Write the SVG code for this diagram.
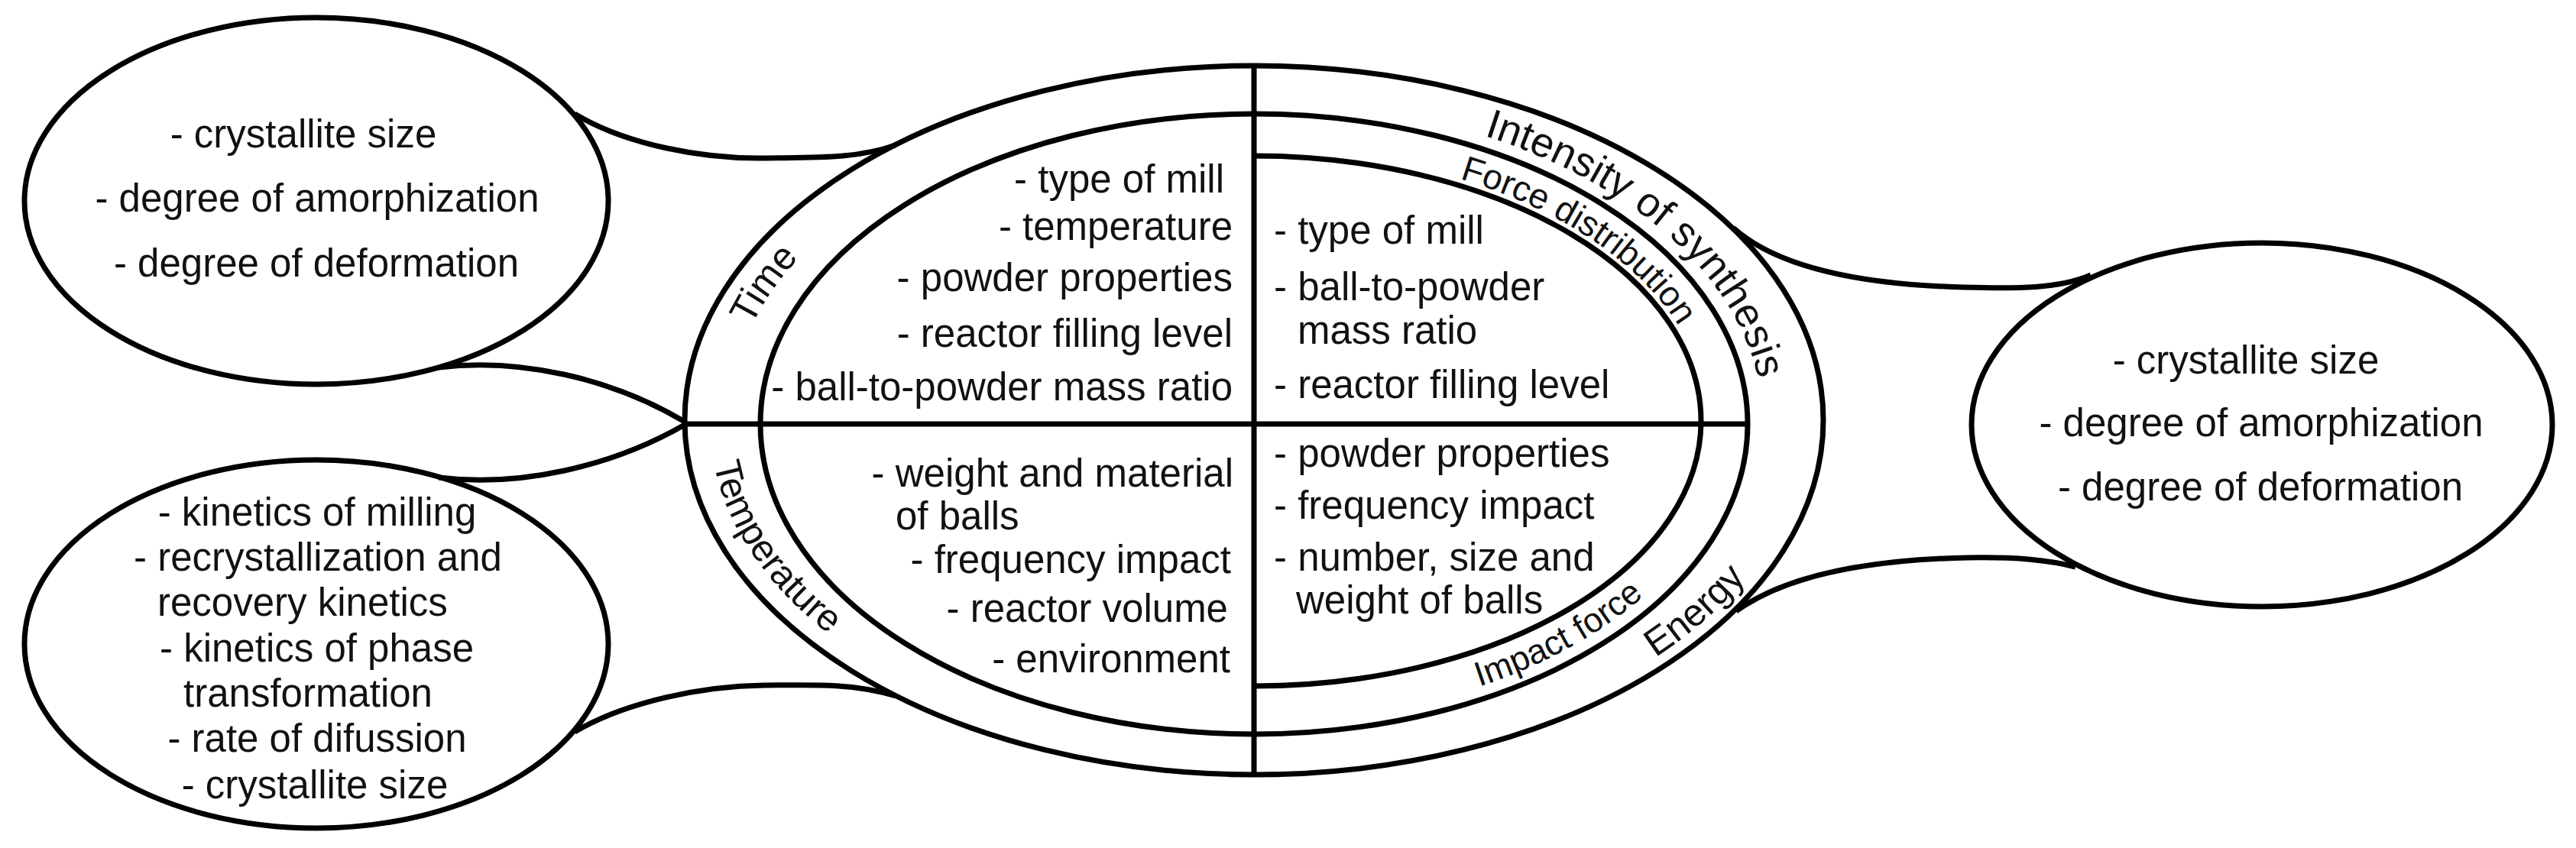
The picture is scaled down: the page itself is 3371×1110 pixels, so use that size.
<svg xmlns="http://www.w3.org/2000/svg" width="3371" height="1110" viewBox="0 0 3371 1110">
<style>
.ln{fill:none;stroke:#000;stroke-width:7}
.t{font-family:"Liberation Sans",Arial,Helvetica,sans-serif;font-size:51px;fill:#111}
.m{text-anchor:middle}
.e{text-anchor:end}
.r{font-family:"Liberation Sans",Arial,Helvetica,sans-serif;fill:#111;text-anchor:middle}
</style>
<defs>
<path id="p-time" d="M 953.6 535.7 A 688 430 0 0 1 1132.2 263.6"/>
<path id="p-temp" d="M 929.6 570.8 A 712 444 0 0 0 1114.4 851.8"/>
<path id="p-int" d="M 1879.7 160 A 666 421 0 0 1 2306.9 560.4"/>
<path id="p-force" d="M 1843.8 216.5 A 593 356 0 0 1 2225 489.2"/>
<path id="p-impact" d="M 1790.3 933.7 A 626 392 0 0 0 2242.1 662.4"/>
<path id="p-energy" d="M 2066.6 915 A 724 450 0 0 0 2343.5 659.9"/>
</defs>
<rect width="3371" height="1110" fill="#fff"/>
<g id="connectors">
<path class="ln" d="M 752 149 C 820 190 920 208 1000 207 C 1070 206 1120 208 1172 190"/>
<path class="ln" d="M 574 481 C 680 468 800 495 896 552"/>
<path class="ln" d="M 574 625 C 680 638 800 611 896 556"/>
<path class="ln" d="M 752 958 C 820 918 920 898 1000 897 C 1070 896 1120 895 1172 911"/>
<path class="ln" d="M 2268 298 C 2320 345 2420 372 2570 376 C 2640 378 2695 378 2736 360"/>
<path class="ln" d="M 2272 800 C 2330 758 2430 733 2575 730 C 2640 729 2680 733 2716 742"/>
</g>
<g id="node-top-left">
<ellipse class="ln" cx="414" cy="263" rx="382" ry="240"/>
<text class="t m" x="397" y="193">- crystallite size</text>
<text class="t m" x="415" y="277">- degree of amorphization</text>
<text class="t m" x="414" y="362">- degree of deformation</text>
</g>
<g id="node-bottom-left">
<ellipse class="ln" cx="414" cy="843" rx="382" ry="241"/>
<text class="t m" x="415" y="688">- kinetics of milling</text>
<text class="t" x="175" y="747">- recrystallization and</text>
<text class="t" x="206" y="806">recovery kinetics</text>
<text class="t" x="209" y="866">- kinetics of phase</text>
<text class="t" x="240" y="925">transformation</text>
<text class="t m" x="415" y="984">- rate of difussion</text>
<text class="t m" x="412" y="1045">- crystallite size</text>
</g>
<g id="node-right">
<ellipse class="ln" cx="2960" cy="556" rx="380" ry="238"/>
<text class="t m" x="2939" y="489">- crystallite size</text>
<text class="t m" x="2959" y="571">- degree of amorphization</text>
<text class="t m" x="2958" y="655">- degree of deformation</text>
</g>
<g id="node-main">
<ellipse class="ln" cx="1641" cy="550" rx="745" ry="464"/>
<ellipse class="ln" cx="1641" cy="555" rx="646" ry="406"/>
<path class="ln" d="M 1641 204 A 585 347 0 0 1 2226 551 A 585 347 0 0 1 1641 898"/>
<path class="ln" d="M 896 555 H 2287"/>
<path class="ln" d="M 1641 86 V 1014"/>
<text class="r" font-size="50"><textPath href="#p-time" startOffset="50%">Time</textPath></text>
<text class="r" font-size="49"><textPath href="#p-temp" startOffset="50%">Temperature</textPath></text>
<text class="r" font-size="54"><textPath href="#p-int" startOffset="50%">Intensity of synthesis</textPath></text>
<text class="r" font-size="46"><textPath href="#p-force" startOffset="50%">Force distribution</textPath></text>
<text class="r" font-size="45"><textPath href="#p-impact" startOffset="50%">Impact force</textPath></text>
<text class="r" font-size="50"><textPath href="#p-energy" startOffset="50%">Energy</textPath></text>
</g>
<g id="node-q-top-left">
<text class="t e" x="1602" y="252">- type of mill</text>
<text class="t e" x="1613" y="314">- temperature</text>
<text class="t e" x="1613" y="381">- powder properties</text>
<text class="t e" x="1613" y="454">- reactor filling level</text>
<text class="t e" x="1613" y="524">- ball-to-powder mass ratio</text>
</g>
<g id="node-q-bottom-left">
<text class="t e" x="1614" y="637">- weight and material</text>
<text class="t" x="1172" y="693">of balls</text>
<text class="t e" x="1611" y="750">- frequency impact</text>
<text class="t e" x="1607" y="814">- reactor volume</text>
<text class="t e" x="1610" y="880">- environment</text>
</g>
<g id="node-q-top-right">
<text class="t" x="1667" y="319">- type of mill</text>
<text class="t" x="1667" y="393">- ball-to-powder</text>
<text class="t" x="1698" y="450">mass ratio</text>
<text class="t" x="1667" y="521">- reactor filling level</text>
</g>
<g id="node-q-bottom-right">
<text class="t" x="1667" y="611">- powder properties</text>
<text class="t" x="1667" y="679">- frequency impact</text>
<text class="t" x="1667" y="747">- number, size and</text>
<text class="t" x="1696" y="803">weight of balls</text>
</g>
</svg>
